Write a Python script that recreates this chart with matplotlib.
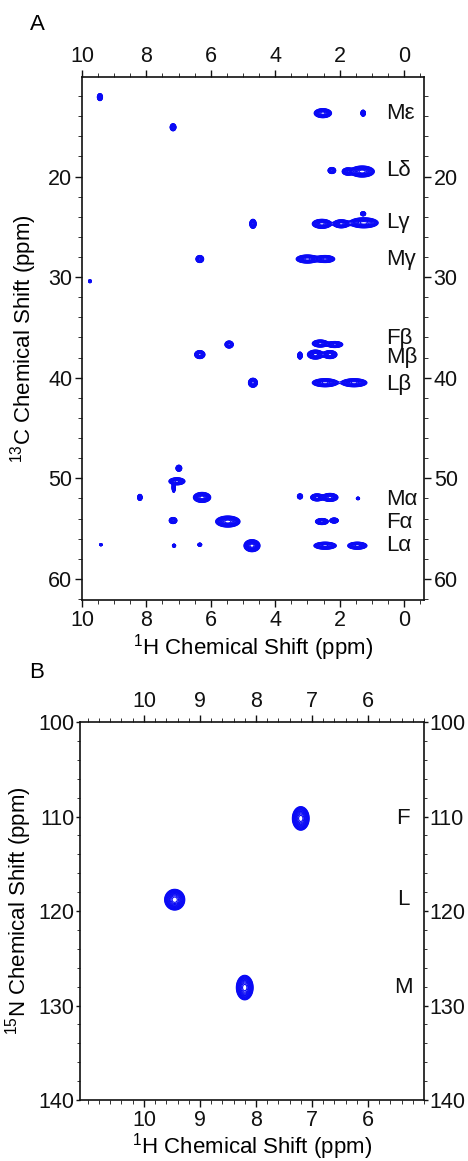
import numpy as np
import matplotlib
matplotlib.use("Agg")
import matplotlib.pyplot as plt
from matplotlib.ticker import MultipleLocator, FixedLocator

plt.rcParams["font.family"] = ["Liberation Sans", "DejaVu Sans"]
plt.rcParams["mathtext.fontset"] = "custom"
plt.rcParams["mathtext.rm"] = "Liberation Sans"

# ---- panel A: 1H-13C correlation peaks (ppm) and visible half-extents ----
ca_h = [9.44, 7.17, 2.52, 1.27, 2.24, 1.75, 1.30,
        4.69, 2.55, 1.95, 1.25, 1.27,
        6.34, 3.00, 2.45, 9.75,
        5.43, 2.60, 2.15,
        6.34, 2.75, 2.30, 3.23,
        4.69, 2.45, 1.55,
        6.99, 7.05, 7.15,
        8.20, 6.27, 3.23, 2.70, 2.30, 1.43,
        7.17, 5.47, 2.55, 2.17,
        9.41, 7.14, 6.34, 4.72, 2.45, 1.45]
ca_c = [12.1, 15.1, 13.7, 13.7, 19.4, 19.5, 19.5,
        24.7, 24.7, 24.7, 24.6, 23.7,
        28.2, 28.2, 28.2, 30.4,
        36.7, 36.6, 36.7,
        37.7, 37.7, 37.7, 37.8,
        40.5, 40.5, 40.5,
        49.0, 50.3, 50.9,
        51.9, 51.9, 51.8, 51.9, 51.9, 52.0,
        54.2, 54.3, 54.3, 54.2,
        56.6, 56.7, 56.6, 56.7, 56.7, 56.7]
ca_wh = [0.08, 0.09, 0.27, 0.07, 0.12, 0.17, 0.38,
         0.10, 0.30, 0.25, 0.45, 0.08,
         0.12, 0.35, 0.30, 0.04,
         0.13, 0.25, 0.25,
         0.16, 0.25, 0.22, 0.07,
         0.14, 0.40, 0.40,
         0.09, 0.25, 0.05,
         0.07, 0.27, 0.08, 0.20, 0.25, 0.05,
         0.12, 0.38, 0.20, 0.13,
         0.04, 0.05, 0.06, 0.25, 0.35, 0.30]
ca_wc = [0.35, 0.35, 0.45, 0.30, 0.30, 0.35, 0.55,
         0.45, 0.45, 0.40, 0.50, 0.20,
         0.35, 0.40, 0.35, 0.15,
         0.35, 0.35, 0.30,
         0.40, 0.45, 0.40, 0.35,
         0.45, 0.40, 0.40,
         0.30, 0.35, 0.50,
         0.30, 0.50, 0.25, 0.35, 0.40, 0.12,
         0.30, 0.55, 0.30, 0.25,
         0.10, 0.15, 0.15, 0.60, 0.35, 0.35]

ca_labels = ["Mε", "Lδ", "Lγ", "Mγ", "Fβ", "Mβ", "Lβ", "Mα", "Fα", "Lα"]
ca_label_c = [13.7, 19.4, 24.6, 28.2, 36.1, 38.0, 40.7, 52.1, 54.4, 56.7]

# ---- panel B: 1H-15N amide peaks ----
nh_h = [7.20, 9.45, 8.20]
nh_n = [110.2, 118.8, 128.1]
nh_wh = [0.15, 0.18, 0.15]
nh_wn = [1.25, 1.10, 1.30]
nh_labels = ["F", "L", "M"]
nh_ticks = [6, 7, 8, 9, 10]


def spectrum(xg, yg, px, py, wx, wy):
    # sum of 2D gaussians; sigma chosen so the lowest contour sits at the half-extent
    z = np.zeros_like(xg)
    k = np.sqrt(2 * np.log(10.0))
    for x0, y0, sx, sy in zip(px, py, wx, wy):
        z += np.exp(-0.5 * (((xg - x0) / (sx / k)) ** 2 + ((yg - y0) / (sy / k)) ** 2))
    return z


levels = 0.1 * 1.18 ** np.arange(16)
blue = "#0a0af5"
fs = 16
tfs = 15.5

fig = plt.figure(figsize=(4.68, 11.61), dpi=100)

# ── Panel A ──────────────────────────────────────────────
ax1 = fig.add_axes([0.175, 0.4832, 0.731, 0.4505])
h = np.linspace(-0.7, 10.1, 1400)
c = np.linspace(9.5, 62.5, 1100)
H, C = np.meshgrid(h, c)
Z = spectrum(H, C, ca_h, ca_c, ca_wh, ca_wc)
ax1.contour(H, C, Z, levels=levels, colors=blue, linewidths=0.8)
ax1.set_xlim(10, -0.62)
ax1.set_ylim(62.1, 10.1)
for lab, yc in zip(ca_labels, ca_label_c):
    ax1.text(0.55, yc, lab, fontsize=fs, ha="left", va="center", color="#111")
ax1.xaxis.set_major_locator(MultipleLocator(2))
ax1.xaxis.set_minor_locator(MultipleLocator(0.5))
ax1.yaxis.set_major_locator(FixedLocator([20, 30, 40, 50, 60]))
ax1.yaxis.set_minor_locator(MultipleLocator(2))
ax1.set_xlabel(r"$\mathregular{^{1}}$H Chemical Shift (ppm)", fontsize=fs, va="center")
ax1.set_ylabel(r"$\mathregular{^{13}}$C Chemical Shift (ppm)", fontsize=fs, va="center")
ax1.xaxis.set_label_coords(0.5, -0.09)
ax1.yaxis.set_label_coords(-0.172, 0.5)

# ── Panel B ──────────────────────────────────────────────
ax2 = fig.add_axes([0.171, 0.0525, 0.735, 0.3256])
hb = np.linspace(4.9, 11.2, 900)
nb = np.linspace(99, 141, 900)
HB, NB = np.meshgrid(hb, nb)
ZB = spectrum(HB, NB, nh_h, nh_n, nh_wh, nh_wn)
ax2.contour(HB, NB, ZB, levels=levels, colors=blue, linewidths=0.8)
ax2.set_xlim(11.14, 5.0)
ax2.set_ylim(140, 100)
for lab, yn in zip(nh_labels, nh_n):
    ax2.text(5.37, yn, lab, fontsize=fs, ha="center", va="center", color="#111")
ax2.xaxis.set_major_locator(FixedLocator(nh_ticks))
ax2.xaxis.set_minor_locator(MultipleLocator(0.2))
ax2.yaxis.set_major_locator(MultipleLocator(10))
ax2.yaxis.set_minor_locator(MultipleLocator(2))
ax2.set_xlabel(r"$\mathregular{^{1}}$H Chemical Shift (ppm)", fontsize=fs, va="center")
ax2.set_ylabel(r"$\mathregular{^{15}}$N Chemical Shift (ppm)", fontsize=fs, va="center")
ax2.xaxis.set_label_coords(0.5, -0.124)
ax2.yaxis.set_label_coords(-0.18, 0.5)

for ax in (ax1, ax2):
    for s in ax.spines.values():
        s.set_linewidth(1.2)
        s.set_color("#111")
    ax.tick_params(which="both", direction="out", top=True, right=True,
                   labeltop=True, labelright=True, colors="#111")
    ax.tick_params(which="major", length=5, width=1.0, pad=2, labelsize=tfs)
    ax.tick_params(which="minor", length=3, width=0.6)

# three-digit 15N labels need a tighter fit on the right side
ax2.tick_params(axis="y", which="major", length=3, pad=1)
ax2.tick_params(axis="y", which="minor", length=2)

fig.text(37 / 468, 1 - 24 / 1161, "A", fontsize=fs, ha="center", va="center")
fig.text(37 / 468, 1 - 673 / 1161, "B", fontsize=fs, ha="center", va="center")

fig.savefig("out.png", dpi=100)
